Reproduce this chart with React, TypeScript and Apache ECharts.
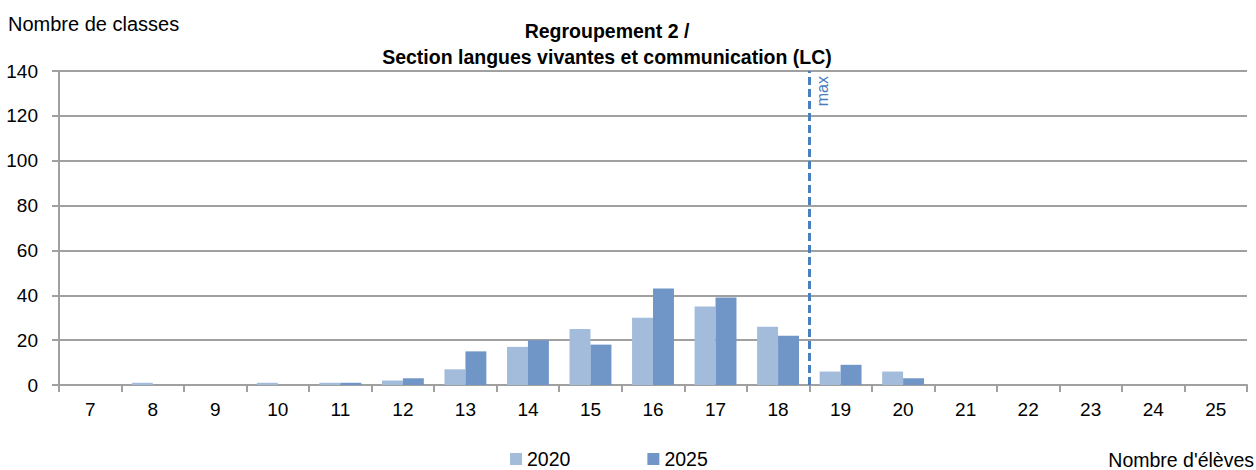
import React, { useEffect, useRef } from "react";
import * as echarts from "echarts";

const categories = ["7", "8", "9", "10", "11", "12", "13", "14", "15", "16", "17", "18", "19", "20", "21", "22", "23", "24", "25"];
const values2020 = [0, 1, 0, 1, 1, 2, 7, 17, 25, 30, 35, 26, 6, 6, 0, 0, 0, 0, 0];
const values2025 = [0, 0, 0, 0, 1, 3, 15, 20, 18, 43, 39, 22, 9, 3, 0, 0, 0, 0, 0];
const maxStudents = 18.5;
const yTicks = { min: 0, max: 140, interval: 20 };

export default function App() {
  const ref = useRef<HTMLDivElement>(null);
  useEffect(() => {
    document.body.style.margin = "0";
    const chart = echarts.init(ref.current!, null, { renderer: "svg" });
    const font = "'Liberation Sans', Arial, sans-serif";
    chart.setOption({
      animation: false,
      textStyle: { fontFamily: font },
      title: {
        text: "Regroupement 2 /\nSection langues vivantes et communication (LC)",
        left: 602,
        textAlign: "center",
        top: 13,
        textStyle: { fontSize: 19.5, fontWeight: "bold", color: "#000", lineHeight: 26, fontFamily: font },
      },
      legend: {
        left: 505,
        top: 444,
        icon: "rect",
        itemWidth: 12,
        itemHeight: 12,
        itemGap: 77,
        itemStyle: { borderWidth: 0 },
        textStyle: { fontSize: 19.5, color: "#000", fontFamily: font },
        data: ["2020", "2025"],
      },
      grid: { left: 59, right: 9, top: 71, bottom: 85 },
      xAxis: [
        {
          type: "category",
          data: categories,
          axisLine: { lineStyle: { color: "#a0a0a0", width: 2 } },
          axisTick: { show: true, length: 7, lineStyle: { color: "#a0a0a0", width: 2 } },
          axisLabel: { fontSize: 19, color: "#000", margin: 15, fontFamily: font },
        },
        {
          type: "value",
          min: 6.5,
          max: 25.5,
          show: false,
        },
      ],
      yAxis: {
        type: "value",
        min: yTicks.min,
        max: yTicks.max,
        interval: yTicks.interval,
        axisLine: { show: true, lineStyle: { color: "#a0a0a0", width: 2 } },
        axisTick: { show: true, length: 7, lineStyle: { color: "#a0a0a0", width: 2 } },
        axisLabel: { fontSize: 19, color: "#000", margin: 21, fontFamily: font },
        splitLine: { lineStyle: { color: "#a0a0a0", width: 2 } },
      },
      series: [
        {
          name: "2020",
          type: "bar",
          data: values2020,
          barGap: "0%",
          barCategoryGap: "33%",
          itemStyle: { color: "#A3BCDB" },
        },
        {
          name: "2025",
          type: "bar",
          data: values2025,
          barGap: "0%",
          barCategoryGap: "33%",
          itemStyle: { color: "#7096C8" },
        },
        {
          name: "max",
          type: "line",
          xAxisIndex: 1,
          data: [],
          markLine: {
            symbol: "none",
            silent: true,
            lineStyle: { color: "#4A7EBF", type: [8, 4], width: 3 },
            label: {
              show: true,
              formatter: "max",
              position: "insideEndBottom",
              color: "#4A7EBF",
              fontSize: 16,
              fontFamily: font,
            },
            data: [{ xAxis: maxStudents }],
          },
        },
      ],
      graphic: [
        {
          type: "text",
          left: 8,
          top: 14,
          style: { text: "Nombre de classes", fontSize: 20, fill: "#000", fontFamily: font },
        },
        {
          type: "text",
          right: 2,
          top: 450,
          style: { text: "Nombre d'élèves", fontSize: 19.5, fill: "#000", fontFamily: font },
        },
      ],
    });
    return () => chart.dispose();
  }, []);
  return <div ref={ref} style={{ width: 1256, height: 470 }} />;
}
